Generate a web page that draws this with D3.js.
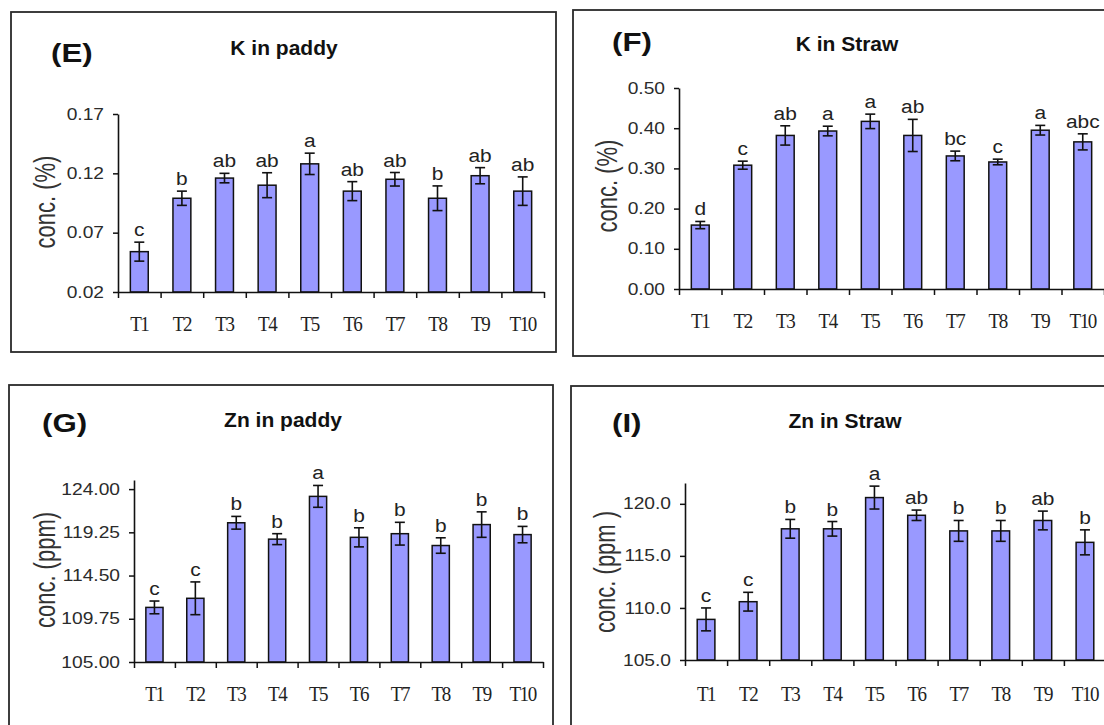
<!DOCTYPE html>
<html><head><meta charset="utf-8">
<script src="https://cdn.jsdelivr.net/npm/d3@7"></script>
<style>body{margin:0;background:#fff} svg{display:block}</style>
</head><body>
<svg id="c" width="1104" height="725"></svg>
<script>
// ---------- DATA ----------
const categories = ["T1","T2","T3","T4","T5","T6","T7","T8","T9","T10"];

const kPaddyValues  = [0.054,0.099,0.116,0.110,0.128,0.105,0.115,0.099,0.118,0.105];
const kPaddyErrors  = [0.008,0.006,0.004,0.0105,0.009,0.008,0.0057,0.0104,0.0068,0.012];
const kPaddyLetters = ["c","b","ab","ab","a","ab","ab","b","ab","ab"];
const kPaddyTicks   = [0.02,0.07,0.12,0.17];

const kStrawValues  = [0.159,0.308,0.382,0.393,0.417,0.382,0.331,0.316,0.395,0.366];
const kStrawErrors  = [0.009,0.010,0.024,0.012,0.018,0.040,0.012,0.007,0.012,0.020];
const kStrawLetters = ["d","c","ab","a","a","ab","bc","c","a","abc"];
const kStrawTicks   = [0.00,0.10,0.20,0.30,0.40,0.50];

const znPaddyValues  = [111.0,112.0,120.3,118.5,123.2,118.7,119.1,117.8,120.1,119.0];
const znPaddyErrors  = [0.7,1.8,0.7,0.6,1.2,1.05,1.25,0.85,1.4,0.9];
const znPaddyLetters = ["c","c","b","b","a","b","b","b","b","b"];
const znPaddyTicks   = [105.00,109.75,114.50,119.25,124.00];

const znStrawValues  = [108.9,110.6,117.6,117.6,120.6,118.9,117.4,117.4,118.4,116.3];
const znStrawErrors  = [1.1,0.9,0.9,0.7,1.1,0.5,1.0,1.0,0.9,1.2];
const znStrawLetters = ["c","c","b","b","a","ab","b","b","ab","b"];
const znStrawTicks   = [105.0,110.0,115.0,120.0];

// ---------- LAYOUT ----------
const panels = [
  {tag:"(E)", title:"K in paddy", ylab:"conc. (%)", vals:kPaddyValues, errs:kPaddyErrors, lets:kPaddyLetters,
   ticks:kPaddyTicks, fmt:".2f", domain:[0.02,0.17],
   box:[11,12,556,352], xr:[118,544], yr:[292,114], tagPos:[51,62], titlePos:[284,55], ylabPos:[45,202], xlabY:331},
  {tag:"(F)", title:"K in Straw", ylab:"conc. (%)", vals:kStrawValues, errs:kStrawErrors, lets:kStrawLetters,
   ticks:kStrawTicks, fmt:".2f", domain:[0,0.5],
   box:[573,10,1130,356], xr:[679,1104], yr:[289,88], tagPos:[612,51], titlePos:[847,51], ylabPos:[607,186], xlabY:328},
  {tag:"(G)", title:"Zn in paddy", ylab:"conc. (ppm)", vals:znPaddyValues, errs:znPaddyErrors, lets:znPaddyLetters,
   ticks:znPaddyTicks, fmt:".2f", domain:[105,125],
   box:[9,385,553,760], xr:[134,543], yr:[662,480], tagPos:[42,432], titlePos:[283,427], ylabPos:[45,570], xlabY:701},
  {tag:"(I)", title:"Zn in Straw", ylab:"conc. (ppm )", vals:znStrawValues, errs:znStrawErrors, lets:znStrawLetters,
   ticks:znStrawTicks, fmt:".1f", domain:[105,122],
   box:[571,386,1130,760], xr:[685,1106], yr:[660,483], tagPos:[612,432], titlePos:[845,428], ylabPos:[605,572], xlabY:701}
];

const svg = d3.select("#c");
const SX = 1.2;

function stext(g, x, y, str, o) {
  o = o || {};
  const sx = o.sx || SX;
  let tr = `translate(${x},${y}) scale(${sx},1)`;
  if (o.rot) tr += ` rotate(${o.rot})`;
  return g.append("text")
    .attr("transform", tr)
    .attr("text-anchor", o.anchor || "middle")
    .attr("font-family", o.family || "'Liberation Sans', Arial, sans-serif")
    .attr("font-size", o.size || 15)
    .attr("font-weight", o.weight || "normal")
    .attr("letter-spacing", o.ls || 0)
    .attr("dy", o.dy || 0)
    .attr("fill", o.fill || "#222")
    .text(str);
}

panels.forEach(p => {
  const g = svg.append("g");
  g.append("rect")
    .attr("x", p.box[0]).attr("y", p.box[1])
    .attr("width", p.box[2]-p.box[0]).attr("height", p.box[3]-p.box[1])
    .attr("fill", "none").attr("stroke", "#2a2a2a").attr("stroke-width", 1.8);

  const x = d3.scaleBand().domain(categories).range(p.xr).paddingInner(0.58).paddingOuter(0.29);
  const xb = d3.scaleLinear().domain([0, categories.length]).range(p.xr);
  const y = d3.scaleLinear().domain(p.domain).range(p.yr);
  const fmt = d3.format(p.fmt);

  g.selectAll("rect.bar").data(p.vals).join("rect")
    .attr("class","bar")
    .attr("x", (d,i) => x(categories[i]))
    .attr("y", d => y(d))
    .attr("width", x.bandwidth())
    .attr("height", d => y(p.domain[0]) - y(d))
    .attr("fill", "#9999ff").attr("stroke", "#111").attr("stroke-width", 1.5);

  const cap = 5;
  p.vals.forEach((v,i) => {
    const cx = x(categories[i]) + x.bandwidth()/2;
    const e = p.errs[i];
    g.append("line").attr("x1",cx).attr("x2",cx).attr("y1",y(v+e)).attr("y2",y(v-e))
      .attr("stroke","#111").attr("stroke-width",1.6);
    [v+e, v-e].forEach(t => g.append("line").attr("x1",cx-cap).attr("x2",cx+cap)
      .attr("y1",y(t)).attr("y2",y(t)).attr("stroke","#111").attr("stroke-width",1.6));
    stext(g, cx, y(v+e) - 6, p.lets[i], {size:19, sx:1.1});
  });

  const ya = g.append("g").attr("transform", `translate(${p.xr[0]},0)`)
    .call(d3.axisLeft(y).tickValues(p.ticks).tickSize(5).tickSizeOuter(0).tickFormat(""));
  ya.select(".domain").attr("stroke","#111").attr("stroke-width",1.6);
  ya.selectAll(".tick line").attr("stroke","#111").attr("stroke-width",1.5);
  p.ticks.forEach(t => stext(g, p.xr[0]-14, y(t), fmt(t), {anchor:"end", size:16, dy:"0.35em", fill:"#2b2b2b"}));

  const xa = g.append("g").attr("transform", `translate(0,${p.yr[0]})`)
    .call(d3.axisBottom(xb).tickValues(d3.range(categories.length+1)).tickSize(6).tickSizeOuter(0).tickFormat(""));
  xa.select(".domain").attr("stroke","#111").attr("stroke-width",1.6);
  xa.selectAll(".tick line").attr("stroke","#111").attr("stroke-width",1.5);
  categories.forEach(c => stext(g, x(c) + x.bandwidth()/2, p.xlabY, c,
    {size:20, sx:0.95, ls:-1.5, family:"'Liberation Serif','Times New Roman',serif", fill:"#222"}));

  stext(g, p.tagPos[0], p.tagPos[1], p.tag, {anchor:"start", size:25, weight:"bold", sx:1.25, fill:"#111"});
  stext(g, p.titlePos[0], p.titlePos[1], p.title, {size:20, weight:"bold", sx:1.05, fill:"#111"});
  stext(g, p.ylabPos[0], p.ylabPos[1], p.ylab, {size:22, sx:1.3, rot:-90, dy:"0.35em", fill:"#333"});
});
</script>
</body></html>
